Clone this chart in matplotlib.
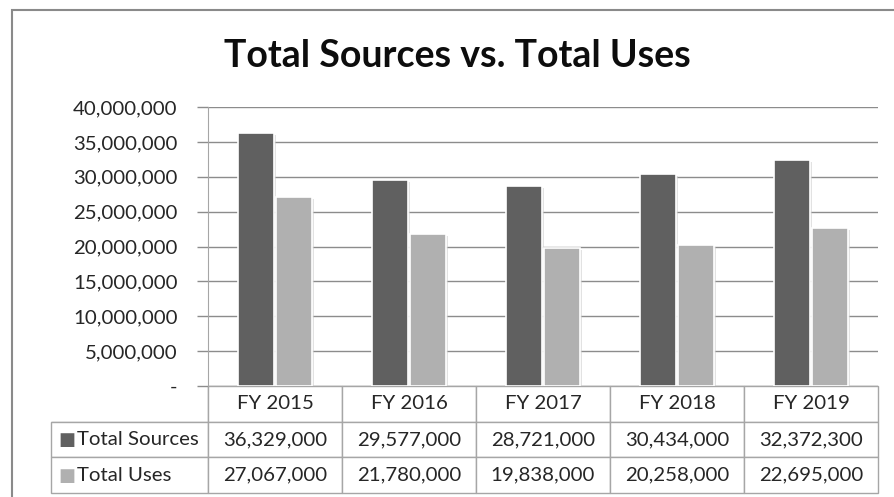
import matplotlib.pyplot as plt
import matplotlib.patheffects as pe
from matplotlib.patches import Rectangle
from matplotlib.ticker import FuncFormatter
import numpy as np

years = ['FY 2015', 'FY 2016', 'FY 2017', 'FY 2018', 'FY 2019']
sources = [36329000, 29577000, 28721000, 30434000, 32372300]
uses = [27067000, 21780000, 19838000, 20258000, 22695000]
series_names = ['Total Sources', 'Total Uses']
dark = '#606060'
light = '#b0b0b0'
grid_col = '#8c8c8c'
border_col = '#a6a6a6'
txt_col = '#262626'

plt.rcParams['font.family'] = ['Lato', 'DejaVu Sans']

fig = plt.figure(figsize=(8.94, 4.97), dpi=100)
W, H = 894, 497
# axes in pixel units: left 208, right 878, top 107, bottom 386
ax = fig.add_axes([208 / W, 1 - 386 / H, 670 / W, 279 / H])

x = np.arange(len(years))
bw = 0.27
shadow = [pe.SimplePatchShadow(offset=(1.5, -1.5), shadow_rgbFace='#d0d0d0', alpha=0.6), pe.Normal()]
b1 = ax.bar(x - 0.143, sources, bw, color=dark, edgecolor='white', linewidth=1.2, zorder=3)
b2 = ax.bar(x + 0.143, uses, bw, color=light, edgecolor='white', linewidth=1.2, zorder=3)
for b in list(b1) + list(b2):
    b.set_path_effects(shadow)

ax.set_xlim(-0.5, len(years) - 0.5)
ax.set_ylim(0, 40000000)
ax.set_yticks(np.arange(0, 40000001, 5000000))
ax.yaxis.set_major_formatter(FuncFormatter(lambda v, p: '-' if v == 0 else f'{v:,.0f}'))
ax.set_xticks([])
ax.grid(axis='y', color=grid_col, linewidth=1, zorder=0)
ax.tick_params(axis='y', length=8, width=1, color=grid_col, labelsize=14.7, pad=14, labelcolor=txt_col)
for s in ['top', 'right', 'bottom']:
    ax.spines[s].set_visible(False)
ax.spines['left'].set_color(border_col)

# data table under the bars; first column holds the series names
cell_text = [[series_names[0]] + [f'{v:,}' for v in sources],
             [series_names[1]] + [f'{v:,}' for v in uses]]
tb = ax.table(cellText=cell_text, colLabels=[''] + years, cellLoc='center',
              colWidths=[157 / 827] + [134 / 827] * 5,
              bbox=[(51 - 208) / 670, -107 / 279, 827 / 670, 107 / 279])
tb.auto_set_font_size(False)
tb.set_fontsize(14.7)
for (r, c), cell in tb.get_celld().items():
    cell.set_edgecolor(border_col)
    cell.set_linewidth(1)
    cell.get_text().set_color(txt_col)
    if c == 0 and r > 0:
        cell.get_text().set_ha('left')
        cell.PAD = 0.165
tb[0, 0].visible_edges = 'BR'
tb[0, 0].set_facecolor('none')

# legend keys in the series name cells
for i, col in enumerate([dark, light]):
    ax.text((58 - 208) / 670, -(440 + 36 * i - 386) / 279, '■', color=col,
            transform=ax.transAxes, fontsize=13, va='center', ha='left',
            family='DejaVu Sans')

fig.text(457 / W, 1 - 56 / H, 'Total Sources vs. Total Uses', ha='center', va='center',
         fontsize=27, fontweight='bold', color='#0d0d0d')

# chart frame
fig.patches.append(Rectangle((12 / W, -0.1), 1.0, 1 - 10 / H + 0.1, transform=fig.transFigure,
                             fill=False, edgecolor='#8a8a8a', linewidth=1.5))

fig.savefig('out.png', dpi=100)
